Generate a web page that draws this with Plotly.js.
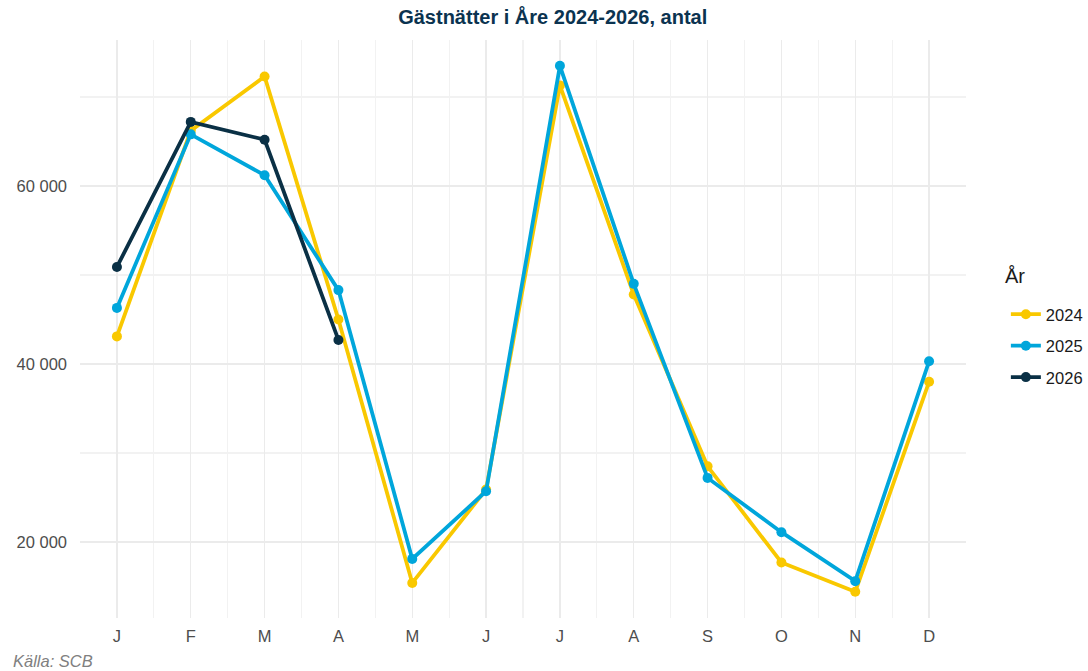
<!DOCTYPE html>
<html>
<head>
<meta charset="utf-8">
<script src="https://cdn.plot.ly/plotly-3.0.1.min.js"></script>
<style>html,body{margin:0;padding:0;background:#fff;}#chart{width:1088px;height:671px;}</style>
</head>
<body>
<div id="chart"></div>
<script>
const months = ["J","F","M","A","M","J","J","A","S","O","N","D"];
const monthIndex = [0,1,2,3,4,5,6,7,8,9,10,11];
const v2024 = [43100, 66200, 72300, 45000, 15400, 25900, 71300, 47800, 28500, 17700, 14400, 38000];
const v2025 = [46300, 65800, 61200, 48300, 18100, 25700, 73500, 49000, 27200, 21100, 15600, 40300];
const v2026 = [50900, 67200, 65200, 42700];
const seriesNames = ["2024","2025","2026"];
const seriesColors = ["#F9C800","#00A6DB","#0A3045"];
const yTicks = [20000, 40000, 60000];

const allVals = [v2024, v2025, v2026];
const traces = allVals.map((vals, i) => ({
  x: monthIndex.slice(0, vals.length),
  y: vals,
  name: seriesNames[i],
  legendgroup: seriesNames[i],
  type: "scatter",
  mode: "lines+markers",
  line: {color: seriesColors[i], width: 3.8},
  marker: {color: seriesColors[i], size: 10},
  hoverinfo: "skip"
}));

const layout = {
  width: 1088, height: 671,
  margin: {l: 80, r: 122, t: 40, b: 53, autoexpand: false},
  paper_bgcolor: "#fff", plot_bgcolor: "#fff",
  separators: ", ",
  font: {family: "Liberation Sans, Arial, sans-serif", color: "#4d4d4d", size: 16},
  title: {
    text: "<b>Gästnätter i Åre 2024-2026, antal</b>",
    font: {size: 20, color: "#0B3350", family: "Liberation Sans, Arial, sans-serif"},
    xref: "container", x: 0.508, xanchor: "center",
    yref: "container", y: 0.974, yanchor: "middle"
  },
  xaxis: {
    range: [-0.5, 11.5],
    tickmode: "array", tickvals: monthIndex, ticktext: months,
    showgrid: true, gridcolor: "#ebebeb", gridwidth: 1.3,
    zeroline: false, showline: false, ticks: "",
    ticklabelstandoff: 6,
    tickfont: {size: 16.5, color: "#4d4d4d"},
    minor: {tickmode: "linear", tick0: -0.5, dtick: 1, showgrid: true, gridcolor: "#f2f2f2", gridwidth: 1.2, ticks: ""},
    fixedrange: true
  },
  yaxis: {
    range: [11460, 76400],
    tickmode: "array", tickvals: yTicks,
    tickformat: ",d",
    showgrid: true, gridcolor: "#ebebeb", gridwidth: 1.3,
    zeroline: false, showline: false, ticks: "",
    ticklabelstandoff: 12,
    tickfont: {size: 16.5, color: "#4d4d4d"},
    minor: {tickmode: "linear", tick0: 0, dtick: 10000, showgrid: true, gridcolor: "#f2f2f2", gridwidth: 1.2, ticks: ""},
    fixedrange: true
  },
  showlegend: true,
  legend: {
    x: 1.045, xanchor: "left", y: 0.4706, yanchor: "middle",
    font: {size: 16.5, color: "#1a1a1a"},
    tracegroupgap: 7, itemwidth: 30,
    bgcolor: "rgba(0,0,0,0)"
  },
  annotations: [
    {
      text: "År",
      xref: "paper", yref: "paper",
      x: 1.0418, y: 0.5917, xanchor: "left", yanchor: "middle",
      showarrow: false,
      font: {size: 20, color: "#1a1a1a"}
    },
    {
      text: "<i>Källa: SCB</i>",
      xref: "paper", yref: "paper",
      x: -0.078, y: -0.075, xanchor: "left", yanchor: "middle",
      showarrow: false,
      font: {size: 16.5, color: "#808080"}
    }
  ]
};

Plotly.newPlot("chart", traces, layout, {displayModeBar: false, staticPlot: true});
</script>
</body>
</html>
